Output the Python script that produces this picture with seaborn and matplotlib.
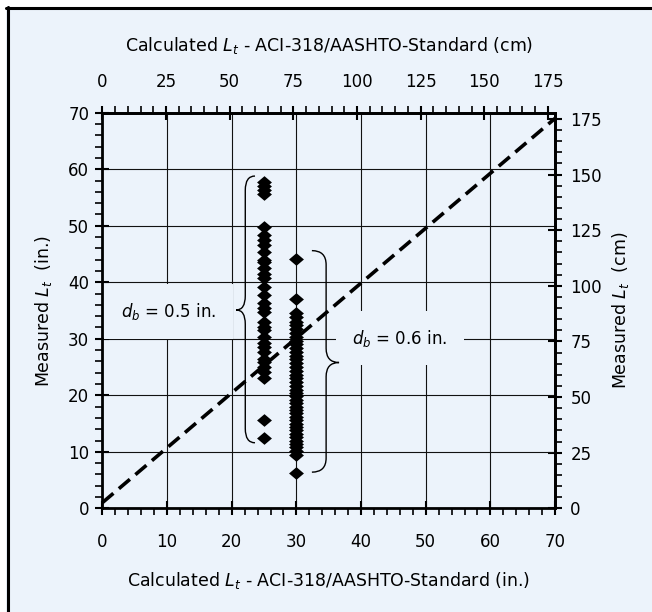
import numpy as np
import pandas as pd
import matplotlib
matplotlib.use("Agg")
import matplotlib.pyplot as plt
import seaborn as sns
from matplotlib.path import Path
from matplotlib.patches import PathPatch, Rectangle
from matplotlib.lines import Line2D
from matplotlib.ticker import MultipleLocator

# Calculated Lt (in.) for each strand diameter
calc_05 = 25
calc_06 = 30

# Measured Lt (in.), db = 0.5 in.
meas_05 = [57.8, 57.0, 56.3, 55.7, 49.8, 48.4, 47.5, 46.6, 45.4, 44.0, 43.6, 42.5,
           41.5, 40.7, 39.2, 37.7, 36.3, 35.5, 34.8, 33.0, 32.0, 31.6, 30.4, 29.2,
           28.5, 27.7, 26.5, 25.9, 25.0, 24.2, 23.0, 15.7, 12.5]

# Measured Lt (in.), db = 0.6 in.
meas_06 = [44.1, 37.0, 34.5, 33.8, 33.0, 32.4, 31.7, 31.0, 30.3, 29.6, 29.0, 28.3,
           27.6, 27.0, 26.4, 25.7, 25.0, 24.3, 23.6, 23.0, 22.3, 21.7, 21.0, 20.4,
           19.8, 19.2, 18.6, 18.0, 17.4, 16.8, 16.2, 15.6, 15.0, 14.4, 13.8, 13.2,
           12.6, 12.0, 11.4, 10.8, 10.2, 9.5, 6.2]

# equality line
line_x = [0, 70]
line_y = [1, 69]

df = pd.concat([
    pd.DataFrame({"calc": calc_05, "meas": meas_05, "db": "0.5"}),
    pd.DataFrame({"calc": calc_06, "meas": meas_06, "db": "0.6"}),
], ignore_index=True)

sns.set_style("ticks")
plt.rcParams["font.family"] = ["DejaVu Sans"]
plt.rcParams["mathtext.fontset"] = "dejavusans"
for k in ["text.color", "axes.labelcolor", "xtick.color", "ytick.color", "axes.edgecolor"]:
    plt.rcParams[k] = "black"

bg = "#ecf3fb"
fs = 12
lfs = 12.5

fig = plt.figure(figsize=(6.52, 6.12), dpi=100)
fig.patch.set_facecolor("white")
fig.patches.append(Rectangle((6 / 652, 0), 1, 1 - 7 / 612, transform=fig.transFigure,
                             facecolor=bg, edgecolor="none", zorder=-10))
fig.lines.append(Line2D([6 / 652, 1], [1 - 8 / 612, 1 - 8 / 612], transform=fig.transFigure,
                        color="black", lw=2.2))
fig.lines.append(Line2D([7.5 / 652, 7.5 / 652], [0, 1 - 7 / 612], transform=fig.transFigure,
                        color="black", lw=2.2))

ax = fig.add_axes([0.157, 0.1694, 0.6943, 0.6464])
ax.set_facecolor(bg)

diamond = [(-1, 0), (0, 0.85), (1, 0), (0, -0.85), (-1, 0)]
sns.scatterplot(data=df, x="calc", y="meas", marker=diamond, s=115, color="black",
                edgecolor="black", linewidth=0, ax=ax, zorder=3, legend=False)
ax.plot(line_x, line_y, color="black", lw=2.6, linestyle=(0, (4, 2.0)), zorder=4)

ax.set_xlim(0, 70)
ax.set_ylim(0, 70)
ax.xaxis.set_major_locator(MultipleLocator(10))
ax.xaxis.set_minor_locator(MultipleLocator(2))
ax.yaxis.set_major_locator(MultipleLocator(10))
ax.yaxis.set_minor_locator(MultipleLocator(2))
ax.grid(which="major", color="#111111", lw=0.8)
ax.set_axisbelow(True)

for s in ax.spines.values():
    s.set_linewidth(2)
ax.tick_params(which="major", direction="inout", length=10, width=1.5, labelsize=fs)
ax.tick_params(which="minor", direction="out", length=5, width=1.2)
ax.tick_params(axis="x", which="major", pad=12.5)
ax.tick_params(axis="y", which="major", pad=4.5)

ax.set_xlabel(r"Calculated $L_t$ - ACI-318/AASHTO-Standard (in.)", fontsize=lfs)
ax.set_ylabel(r"Measured $L_t$  (in.)", fontsize=lfs)
ax.xaxis.set_label_coords(0.5, -0.155)
ax.yaxis.set_label_coords(-0.107, 0.5)

# metric axes
secx = ax.secondary_xaxis("top", functions=(lambda v: v * 2.54, lambda v: v / 2.54))
secx.set_xticks(np.arange(0, 176, 25))
secx.xaxis.set_minor_locator(MultipleLocator(5))
secx.tick_params(which="major", direction="inout", length=10, width=1.5, labelsize=fs, pad=11)
secx.tick_params(which="minor", direction="out", length=5, width=1.2)
secx.spines["top"].set_linewidth(2)
secx.set_xlabel(r"Calculated $L_t$ - ACI-318/AASHTO-Standard (cm)", fontsize=lfs)
secx.xaxis.set_label_coords(0.5, 1.156, transform=ax.transAxes)

secy = ax.secondary_yaxis("right", functions=(lambda v: v * 2.54, lambda v: v / 2.54))
secy.set_yticks(np.arange(0, 176, 25))
secy.yaxis.set_minor_locator(MultipleLocator(5))
secy.tick_params(which="major", direction="inout", length=10, width=1.5, labelsize=fs, pad=6)
secy.tick_params(which="minor", direction="out", length=5, width=1.2)
secy.spines["right"].set_linewidth(2)
secy.set_ylabel(r"Measured $L_t$  (cm)", fontsize=lfs)
secy.yaxis.set_label_coords(1.121, 0.5, transform=ax.transAxes)


def brace(x_end, x_line, x_tip, y_top, y_tip, y_bot, r=2.5):
    verts = [(x_end, y_top), (x_line, y_top), (x_line, y_top - r),
             (x_line, y_tip + r), (x_line, y_tip), (x_tip, y_tip),
             (x_line, y_tip), (x_line, y_tip - r),
             (x_line, y_bot + r), (x_line, y_bot), (x_end, y_bot)]
    codes = [Path.MOVETO, Path.CURVE3, Path.CURVE3,
             Path.LINETO, Path.CURVE3, Path.CURVE3,
             Path.CURVE3, Path.CURVE3,
             Path.LINETO, Path.CURVE3, Path.CURVE3]
    ax.add_patch(PathPatch(Path(verts, codes), fill=False, lw=1.0, color="black", zorder=3))


brace(23.6, 22.1, 20.7, 58.8, 35.1, 11.6)
brace(32.4, 34.6, 36.6, 45.6, 25.8, 6.4)

box = dict(boxstyle="square,pad=1.0", facecolor=bg, edgecolor="none")
ax.text(10.2, 34.8, r"$d_b$ = 0.5 in.", ha="center", va="center", fontsize=fs, bbox=box, zorder=2)
ax.text(46.0, 30.1, r"$d_b$ = 0.6 in.", ha="center", va="center", fontsize=fs, bbox=box, zorder=2)

fig.savefig("out.png", dpi=100, facecolor=fig.get_facecolor())
